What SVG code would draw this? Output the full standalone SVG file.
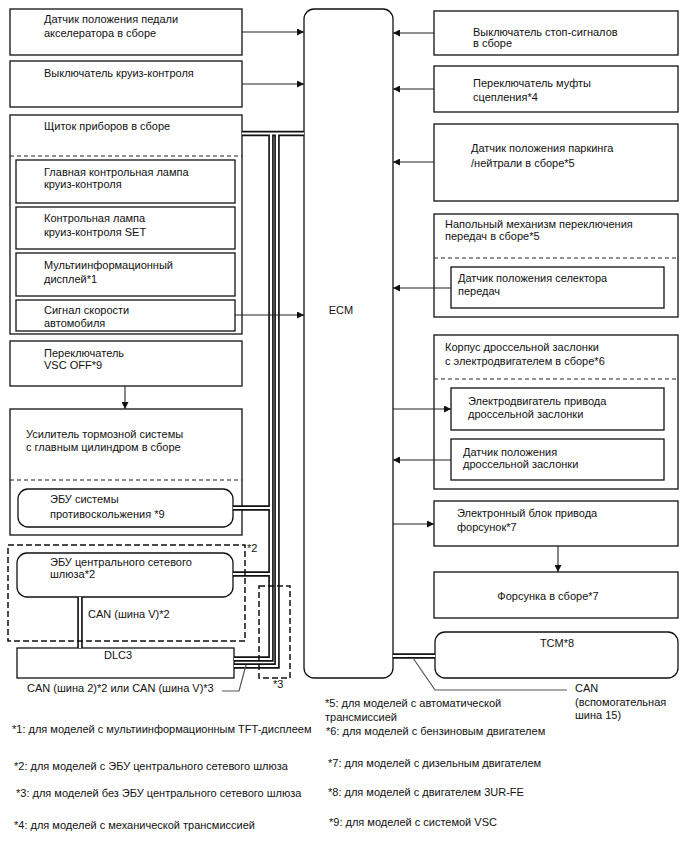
<svg xmlns="http://www.w3.org/2000/svg" width="688" height="852" viewBox="0 0 688 852">
<defs>
<marker id="ah" viewBox="0 0 10 10" refX="10" refY="5" markerWidth="9" markerHeight="7" markerUnits="userSpaceOnUse" orient="auto"><path d="M0,0 L10,5 L0,10 z" fill="#111"/></marker>
<style>
text{font-family:"Liberation Sans",Arial,sans-serif;font-size:11px;fill:#111}
.box{fill:#fff;stroke:#111;stroke-width:1.3}
.dash{fill:none;stroke:#222;stroke-width:1;stroke-dasharray:4,3}
.dbox{fill:none;stroke:#111;stroke-width:1.5;stroke-dasharray:6,3}
.arr{fill:none;stroke:#222;stroke-width:1.1;marker-end:url(#ah)}
.lead{fill:none;stroke:#555;stroke-width:1.2}
.bo{fill:none;stroke:#111;stroke-width:5.5}
.bi{fill:none;stroke:#fff;stroke-width:2.2}
</style>
</defs>
<rect width="688" height="852" fill="#fff"/>

<g id="ecm"><rect class="box" x="304" y="9" width="89" height="669" rx="10"/><text x="341" y="314" text-anchor="middle">ECM</text></g>

<g id="accel"><rect class="box" x="10" y="9" width="232" height="46"/><text x="44" y="23">Датчик положения педали</text><text x="44" y="37">акселератора в сборе</text></g>
<g id="cruise-sw"><rect class="box" x="10" y="61" width="232" height="46"/><text x="44" y="77">Выключатель круиз-контроля</text></g>
<g id="cluster"><rect class="box" x="10" y="115" width="232" height="219"/><text x="44" y="130">Щиток приборов в сборе</text><line class="dash" x1="10" y1="156" x2="242" y2="156"/>
<g id="main-lamp"><rect class="box" x="16" y="160" width="219" height="43"/><text x="44" y="176">Главная контрольная лампа</text><text x="44" y="188">круиз-контроля</text></g>
<g id="set-lamp"><rect class="box" x="16" y="207" width="219" height="42"/><text x="44" y="222">Контрольная лампа</text><text x="44" y="236">круиз-контроля SET</text></g>
<g id="mid"><rect class="box" x="16" y="253" width="219" height="43"/><text x="44" y="269">Мультиинформационный</text><text x="44" y="283">дисплей*1</text></g>
<g id="speed"><rect class="box" x="16" y="300" width="219" height="31"/><text x="44" y="314">Сигнал скорости</text><text x="44" y="327">автомобиля</text></g>
</g>
<g id="vsc-off"><rect class="box" x="10" y="341" width="232" height="45"/><text x="44" y="357">Переключатель</text><text x="44" y="369">VSC OFF*9</text></g>
<g id="brake"><rect class="box" x="10" y="409" width="232" height="126"/><text x="26" y="438">Усилитель тормозной системы</text><text x="26" y="451">с главным цилиндром в сборе</text><line class="dash" x1="10" y1="480" x2="242" y2="480"/>
<g id="skid-ecu"><rect class="box" x="18" y="489" width="215" height="38" rx="10"/><text x="50" y="503">ЭБУ системы</text><text x="50" y="518">противоскольжения *9</text></g>
</g>
<g id="gateway"><rect class="box" x="17" y="553" width="216" height="44" rx="10"/><text x="50" y="566">ЭБУ центрального сетевого</text><text x="50" y="578">шлюза*2</text></g>
<g id="dlc3"><rect class="box" x="17" y="648" width="217" height="30"/><text x="104" y="659">DLC3</text></g>

<g id="stop-sw"><rect class="box" x="434" y="11" width="244" height="44"/><text x="473" y="36">Выключатель стоп-сигналов</text><text x="473" y="47">в сборе</text></g>
<g id="clutch-sw"><rect class="box" x="434" y="66" width="244" height="46"/><text x="473" y="87">Переключатель муфты</text><text x="473" y="101">сцепления*4</text></g>
<g id="pn-sw"><rect class="box" x="434" y="124" width="244" height="77"/><text x="471" y="152">Датчик положения паркинга</text><text x="471" y="167">/нейтрали в сборе*5</text></g>
<g id="shift"><rect class="box" x="434" y="214" width="244" height="103"/><text x="445" y="228">Напольный механизм переключения</text><text x="445" y="240">передач в сборе*5</text><line class="dash" x1="434" y1="258" x2="678" y2="258"/>
<g id="shift-sensor"><rect class="box" x="451" y="267" width="213" height="41"/><text x="458" y="282">Датчик положения селектора</text><text x="458" y="295">передач</text></g>
</g>
<g id="throttle"><rect class="box" x="434" y="335" width="244" height="154"/><text x="445" y="351">Корпус дроссельной заслонки</text><text x="445" y="365">с электродвигателем в сборе*6</text><line class="dash" x1="434" y1="379" x2="678" y2="379"/>
<g id="throttle-motor"><rect class="box" x="451" y="388" width="213" height="42"/><text x="468" y="405">Электродвигатель привода</text><text x="468" y="418">дроссельной заслонки</text></g>
<g id="throttle-sensor"><rect class="box" x="451" y="439" width="213" height="41"/><text x="463" y="456">Датчик положения</text><text x="463" y="468">дроссельной заслонки</text></g>
</g>
<g id="edu"><rect class="box" x="434" y="501" width="244" height="45"/><text x="457" y="517">Электронный блок привода</text><text x="457" y="531">форсунок*7</text></g>
<g id="injector"><rect class="box" x="434" y="572" width="244" height="46"/><text x="548" y="600" text-anchor="middle">Форсунка в сборе*7</text></g>
<g id="tcm"><rect class="box" x="435" y="632" width="243" height="46" rx="10"/><text x="557" y="647" text-anchor="middle">TCM*8</text></g>

<g id="connectors">
<g id="buses">
<path class="bo" d="M242,133.5 H304 M271,133.5 V659 H234 M277,133.5 V666 H234 M233,508 H271 M233,574 H271 M393,656 H435 M80,597 V648"/>
<path class="bi" d="M242,133.5 H304 M271,133.5 V659 H234 M277,133.5 V666 H234 M233,508 H271 M233,574 H271 M393,656 H435 M80,597 V648"/>
</g>
<line class="arr" x1="242" y1="32" x2="304" y2="32"/>
<line class="arr" x1="242" y1="84" x2="304" y2="84"/>
<line class="arr" x1="235" y1="315" x2="304" y2="315"/>
<line class="arr" x1="125" y1="386" x2="125" y2="409"/>
<line class="arr" x1="434" y1="33" x2="393" y2="33"/>
<line class="arr" x1="434" y1="89" x2="393" y2="89"/>
<line class="arr" x1="434" y1="162" x2="393" y2="162"/>
<line class="arr" x1="451" y1="288" x2="393" y2="288"/>
<line class="arr" x1="393" y1="409" x2="451" y2="409"/>
<line class="arr" x1="451" y1="460" x2="393" y2="460"/>
<line class="arr" x1="393" y1="524" x2="434" y2="524"/>
<line class="arr" x1="558" y1="546" x2="558" y2="572"/>
<polyline class="lead" points="222,691 239,691 246,665"/>
<polyline class="lead" points="413,658 435,690 567,690"/>
<rect class="dbox" x="8" y="545" width="237" height="96"/>
<rect class="dbox" x="259" y="586" width="31" height="92"/>
</g>

<g id="labels">
<text x="247" y="552">*2</text>
<text x="273" y="688">*3</text>
<text x="88" y="618">CAN (шина V)*2</text>
<text x="27" y="692">CAN (шина 2)*2 или CAN (шина V)*3</text>
<text x="575" y="692">CAN</text>
<text x="575" y="706">(вспомогательная</text>
<text x="575" y="719">шина 15)</text>
</g>
<g id="notes">
<text x="325" y="707">*5: для моделей с автоматической</text>
<text x="325" y="721">трансмиссией</text>
<text x="12" y="733">*1: для моделей с мультиинформационным TFT-дисплеем</text>
<text x="326" y="735">*6: для моделей с бензиновым двигателем</text>
<text x="14" y="770">*2: для моделей с ЭБУ центрального сетевого шлюза</text>
<text x="328" y="767">*7: для моделей с дизельным двигателем</text>
<text x="16" y="797">*3: для моделей без ЭБУ центрального сетевого шлюза</text>
<text x="328" y="796">*8: для моделей с двигателем 3UR-FE</text>
<text x="14" y="829">*4: для моделей с механической трансмиссией</text>
<text x="329" y="826">*9: для моделей с системой VSC</text>
</g>
</svg>
